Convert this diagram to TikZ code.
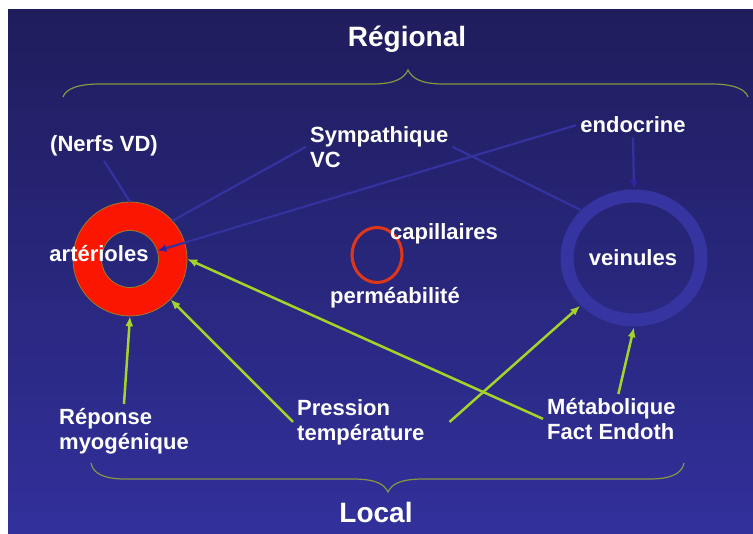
\documentclass[tikz,border=0pt]{standalone}
\usepackage{fontspec}
\setmainfont{Liberation Sans}
\usetikzlibrary{arrows.meta,shapes.geometric}

\definecolor{fondhaut}{RGB}{31,29,92}
\definecolor{fondbas}{RGB}{50,48,155}
\definecolor{rougeart}{RGB}{250,22,0}
\definecolor{bordart}{RGB}{150,125,45}
\definecolor{rougecap}{RGB}{225,55,25}
\definecolor{bleuvein}{RGB}{54,52,160}
\definecolor{bleulien}{RGB}{52,50,158}
\definecolor{bleupointe}{RGB}{50,35,160}
\definecolor{vertfleche}{RGB}{165,212,40}
\definecolor{olivacc}{RGB}{135,150,65}

\tikzset{etiq/.style = {text=white, inner sep=4pt,
                        font=\bfseries\fontsize{22}{25}\selectfont},
         titre/.style = {text=white, inner sep=0pt,
                         font=\bfseries\fontsize{28}{32}\selectfont},
         lien/.style = {draw=bleulien, line width=2.2pt},
         flechebleue/.style = {lien, -{Latex[length=9pt,width=8pt,color=bleupointe]}},
         flecheverte/.style = {draw=vertfleche, line width=2.5pt,
                               -{Latex[length=10pt,width=8pt]}},
         accolade/.style = {draw=olivacc, line width=1.2pt},
         anneau/.style = {draw=bleuvein, line width=13pt}
        }

\begin{document}
\begin{tikzpicture}[x=1pt,y=-1pt]
  \useasboundingbox (0,0) rectangle (753,534);
  \fill[white] (0,0) rectangle (753,534);
  \shade[top color=fondhaut, bottom color=fondbas] (8,10) rectangle (753,534);

  \draw[accolade] (63,97) .. controls (66,88) and (80,84) .. (100,84) -- (372,84)
                  .. controls (396,84) and (404,78) .. (408,70)
                  .. controls (412,78) and (420,84) .. (444,84) -- (711,84)
                  .. controls (731,84) and (745,88) .. (748,97);
  \draw[accolade] (91,463) .. controls (93,474) and (105,479) .. (125,479) -- (352,479)
                  .. controls (376,479) and (384,484) .. (388,492)
                  .. controls (392,484) and (400,479) .. (424,479) -- (650,479)
                  .. controls (670,479) and (682,474) .. (684,463);

  \node[circle, minimum size=114pt, inner sep=0pt] (art) at (130,259) {};
  \node[circle, minimum size=57pt, inner sep=0pt] (artin) at (130,259) {};
  \fill[rougeart, even odd rule] (art.center) circle (57pt) circle (28.5pt);
  \draw[bordart, line width=0.8pt] (art.center) circle (57pt) (art.center) circle (28.5pt);

  \node[ellipse, draw=rougecap, line width=3pt, minimum width=50pt,
        minimum height=55pt, inner sep=0pt] (cap) at (377,255) {};

  \node[ellipse, minimum width=148pt, minimum height=138pt, inner sep=0pt] (vein) at (634,258) {};
  \draw[anneau] (vein.center) ellipse (67pt and 62pt);

  \node[titre, anchor=base] (regional) at (407,47) {Régional};
  \node[titre, anchor=base] (local) at (376,523) {Local};

  \node[etiq, anchor=base] (artlab) at (99,262) {artérioles};
  \node[etiq, anchor=base west] (caplab) at (386,240) {capillaires};
  \node[etiq, anchor=base] (perm) at (395,304) {perméabilité};
  \node[etiq, anchor=base] (veinlab) at (633,266) {veinules};
  \node[etiq, anchor=base] (nerfs) at (104,152) {(Nerfs VD)};
  \node[etiq, anchor=base] (endo) at (633,133) {endocrine};
  \node[etiq, align=left, anchor=north west] (sympa) at (306,122) {Sympathique\\VC};
  \node[etiq, align=left, anchor=north west] (repo) at (55,404) {Réponse\\myogénique};
  \node[etiq, align=left, anchor=north west] (press) at (293,395) {Pression\\température};
  \node[etiq, align=left, anchor=north west] (meta) at (543,394) {Métabolique\\Fact Endoth};

  \draw[lien] (nerfs.south) -- (art.north);
  \draw[lien] (sympa.west) -- (art.42);
  \draw[lien] (sympa.east) -- (vein.138);
  \draw[flechebleue] (endo.west) -- (artin);
  \draw[flechebleue] (endo.south) -- (vein.north);

  \draw[flecheverte] (repo.north) -- (art.south);
  \draw[flecheverte] (press.west) -- (art);
  \draw[flecheverte] ([xshift=21pt]press.east) -- (vein);
  \draw[flecheverte] (meta.west) -- (art.east);
  \draw[flecheverte] ([xshift=7pt]meta.north) -- (vein.south);
\end{tikzpicture}
\end{document}
